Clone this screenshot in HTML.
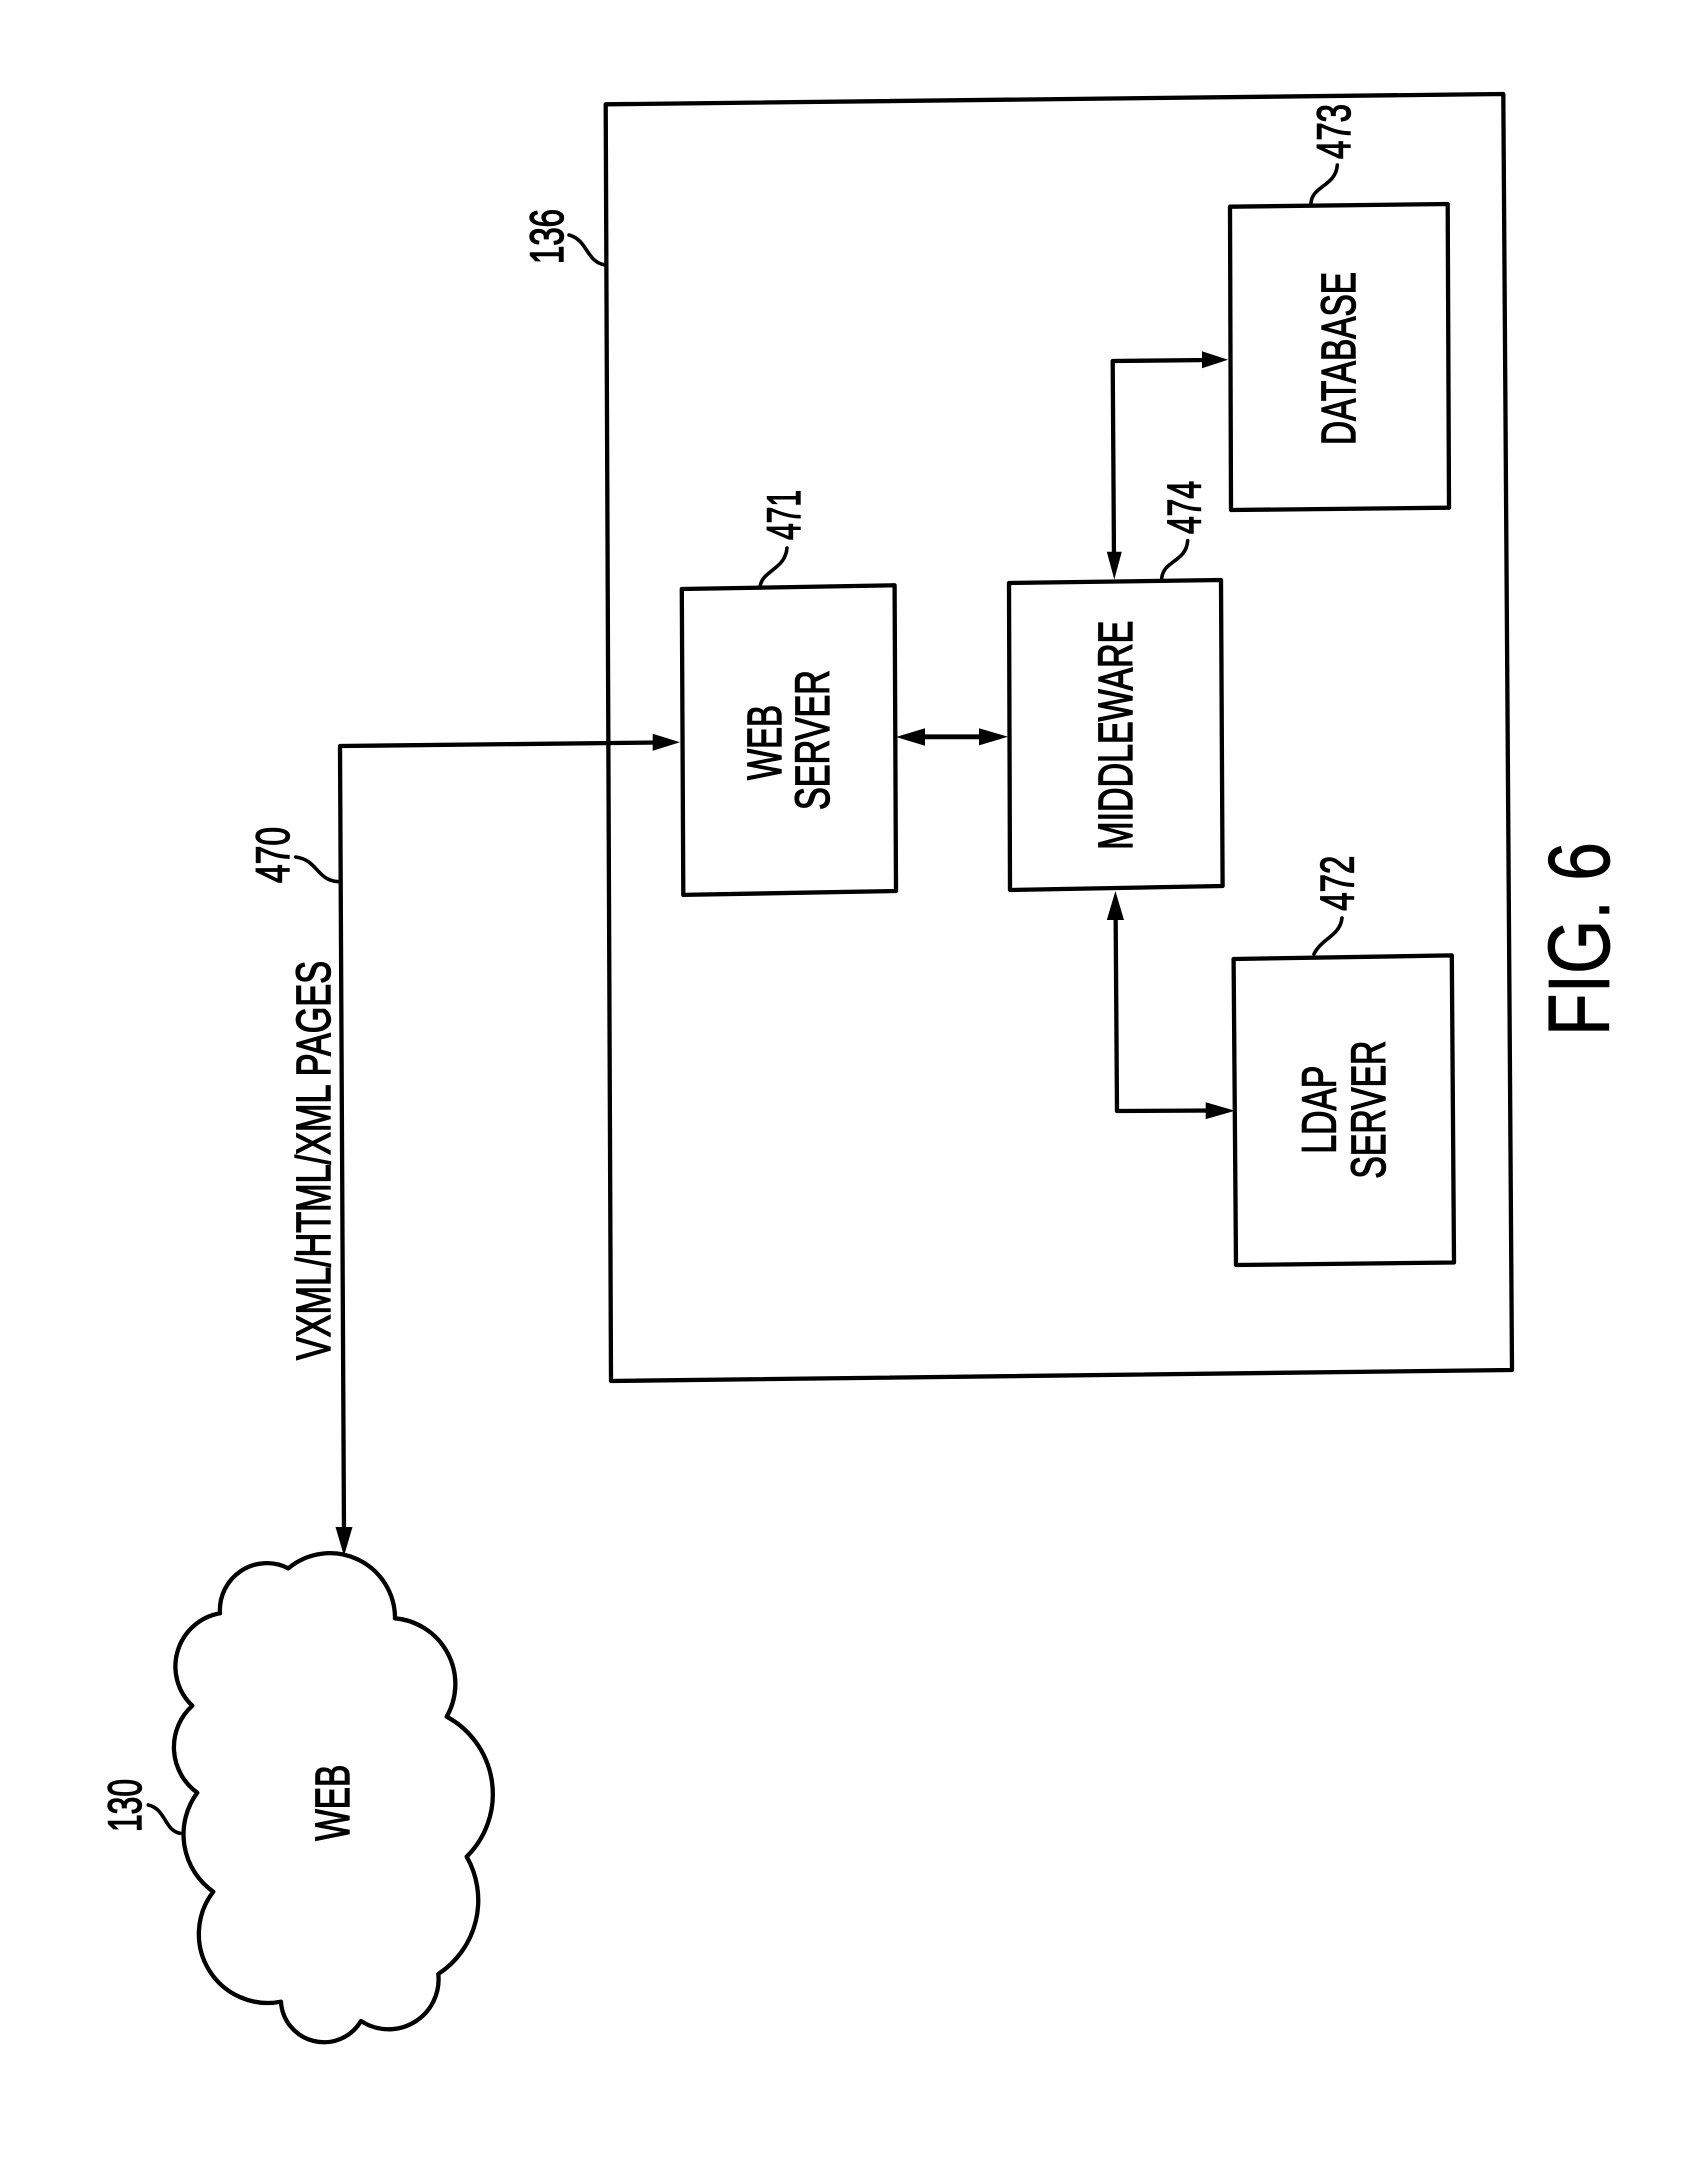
<!DOCTYPE html>
<html><head><meta charset="utf-8"><title>FIG. 6</title>
<style>html,body{margin:0;padding:0;background:#fff}svg{display:block}
text{font-family:"Liberation Sans",sans-serif;fill:#000;font-size:48px;stroke:#000;stroke-width:1.4px}
.n{font-size:47px}</style></head>
<body>
<svg xmlns="http://www.w3.org/2000/svg" width="1690" height="2177" viewBox="0 0 1690 2177">
<rect width="1690" height="2177" fill="#fff"/>
<g fill="none" stroke="#000" stroke-width="4.3" stroke-linejoin="round">
<polygon points="605.7,104.3 1503.3,94 1512,1370 611,1381"/>
<polygon points="1230,206.7 1447.7,204 1449,507.7 1231,510"/>
<polygon points="681.8,589 894.6,585.3 896,891 683.3,894.9"/>
<polygon points="1009,583 1221,580 1222.6,886 1010,890"/>
<polygon points="1233.6,959 1451.8,955.4 1454,1262.5 1236,1265"/>
<path d="M288.3,1568.3 A65,65 0 0 1 395,1618.3 A66,66 0 0 1 446.7,1716.7 A88,88 0 0 1 466.7,1856.7 A88,88 0 0 1 438.3,1974 A50,50 0 0 1 361,2021 A43,43 0 0 1 281,2001.7 A69,69 0 0 1 213.3,1891.7 A70,70 0 0 1 197.3,1792.7 A56,56 0 0 1 192.3,1705.7 A54,54 0 0 1 220,1613.3 A47,47 0 0 1 288.3,1568.3 Z"/>
<path d="M344,1535 L340,746 L660,742.5"/>
<path d="M905,736.8 L1000,736.8" stroke-width="4.8"/>
<path d="M1114,560 L1112.7,361 L1210,360"/>
<path d="M1115.6,910 L1117,1111 L1215,1110.5"/>
<g stroke-width="3.6" stroke-linecap="round">
<path d="M605,265 C586,262 588,240 569,235"/>
<path d="M1311,203 C1312,186 1336,186 1337.3,165"/>
<path d="M760,587 C762,570 785,570 787,548"/>
<path d="M1161.7,578 C1164,560 1186,562 1187.7,540.7"/>
<path d="M1314,954 C1322,938 1340,936 1342,918"/>
<path d="M338.3,881.7 C316,880 318,860 295.7,857"/>
<path d="M180,1833.3 C164,1830 166,1809 148.3,1805"/>
</g>
</g>
<g fill="#000">
<polygon points="680,742.3 652.7,733.8 652.7,750.8"/>
<polygon points="344,1556 335.5,1527 352.5,1527"/>
<polygon points="896,737 925,728.2 925,745.8"/>
<polygon points="1008,736.8 979,728.2 979,745.4"/>
<polygon points="1114.3,579.5 1106.8,551.7 1121.8,551.7"/>
<polygon points="1228,359.8 1202,351.3 1202,368.3"/>
<polygon points="1115.4,891 1106.8,920 1124,920"/>
<polygon points="1235,1110.7 1205.7,1102.3 1205.7,1119.1"/>
</g>
<text transform="translate(1132,849.7) rotate(-90)" textLength="229" lengthAdjust="spacingAndGlyphs">MIDDLEWARE</text>
<text transform="translate(781,780) rotate(-90)" textLength="75" lengthAdjust="spacingAndGlyphs">WEB</text>
<text transform="translate(829,810) rotate(-90)" textLength="140" lengthAdjust="spacingAndGlyphs">SERVER</text>
<text transform="translate(1355,445) rotate(-90)" textLength="173" lengthAdjust="spacingAndGlyphs">DATABASE</text>
<text transform="translate(1335.5,1153.6) rotate(-90)" textLength="88" lengthAdjust="spacingAndGlyphs">LDAP</text>
<text transform="translate(1385,1178.6) rotate(-90)" textLength="138" lengthAdjust="spacingAndGlyphs">SERVER</text>
<text transform="translate(349,1840.7) rotate(-90)" textLength="76" lengthAdjust="spacingAndGlyphs">WEB</text>
<text transform="translate(330,1360) rotate(-90)" textLength="399" lengthAdjust="spacingAndGlyphs">VXML/HTML/XML PAGES</text>
<text class="n" transform="translate(563,264) rotate(-90)" textLength="55" lengthAdjust="spacingAndGlyphs">136</text>
<text class="n" transform="translate(1350,159) rotate(-90)" textLength="55" lengthAdjust="spacingAndGlyphs">473</text>
<text class="n" transform="translate(800,540) rotate(-90)" textLength="50" lengthAdjust="spacingAndGlyphs">471</text>
<text class="n" transform="translate(1200.7,534) rotate(-90)" textLength="53" lengthAdjust="spacingAndGlyphs">474</text>
<text class="n" transform="translate(1353.6,910.7) rotate(-90)" textLength="55" lengthAdjust="spacingAndGlyphs">472</text>
<text class="n" transform="translate(289,883) rotate(-90)" textLength="56" lengthAdjust="spacingAndGlyphs">470</text>
<text class="n" transform="translate(141,1832) rotate(-90)" textLength="53" lengthAdjust="spacingAndGlyphs">130</text>
<text transform="translate(1609,1036) rotate(-90)" textLength="194" lengthAdjust="spacingAndGlyphs" style="font-size:87px;stroke-width:.8px">FIG. 6</text>
</svg>
</body></html>
